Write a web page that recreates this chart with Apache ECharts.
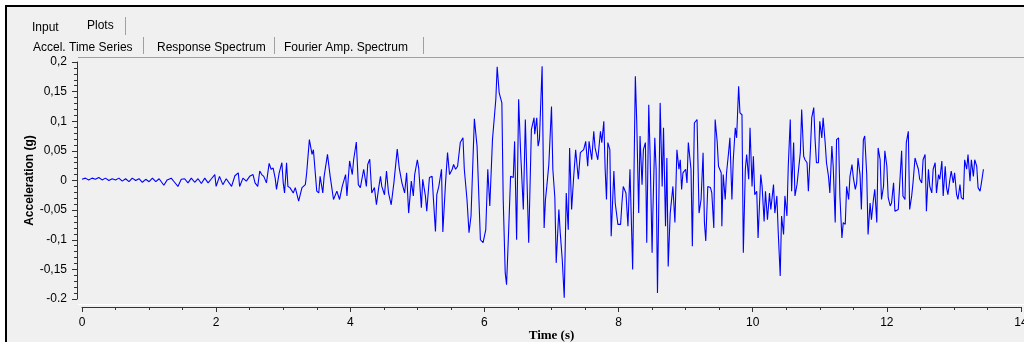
<!DOCTYPE html>
<html>
<head>
<meta charset="utf-8">
<script src="https://cdn.jsdelivr.net/npm/echarts@6/dist/echarts.min.js"></script>
<style>
html,body{margin:0;padding:0;background:#ffffff;}
#chart{width:1024px;height:342px;}
</style>
</head>
<body>
<div id="chart"></div>
<script>
// Tick labels as shown in the reference
const xTickLabels = ['0', '2', '4', '6', '8', '10', '12', '14'];
const yTickLabels = ['-0.2', '-0,15', '-0,1', '-0,05', '0', '0,05', '0,1', '0,15', '0,2'];
const tabsTop = ['Input', 'Plots'];
const tabsSub = ['Accel. Time Series', 'Response Spectrum', 'Fourier Amp. Spectrum'];
const xTitle = 'Time (s)';
const yTitle = 'Acceleration (g)';

// Time (s) of each vertex
const timeS = [
  0.00,0.05,0.10,0.15,0.20,0.25,0.30,0.35,0.40,0.45,0.50,0.55,0.60,0.65,0.70,0.75,0.80,0.85,0.90,0.95,
  1.00,1.05,1.10,1.15,1.22,1.27,1.33,1.38,1.43,1.48,1.53,1.58,1.63,1.68,1.73,1.78,1.83,1.88,1.93,1.98,
  2.00,2.05,2.10,2.15,2.23,2.28,2.33,2.35,2.40,2.45,2.50,2.55,2.58,2.62,2.65,2.68,2.71,2.75,2.79,2.82,
  2.85,2.88,2.90,2.94,2.98,3.00,3.02,3.05,3.07,3.10,3.15,3.18,3.23,3.28,3.33,3.35,3.39,3.43,3.45,3.50,
  3.53,3.55,3.59,3.61,3.66,3.70,3.75,3.80,3.84,3.88,3.93,3.95,3.99,4.03,4.05,4.09,4.12,4.15,4.20,4.24,
  4.26,4.29,4.32,4.36,4.39,4.42,4.45,4.47,4.51,4.54,4.57,4.61,4.65,4.70,4.73,4.77,4.81,4.84,4.87,4.91,
  4.94,4.96,5.00,5.02,5.06,5.08,5.12,5.14,5.18,5.22,5.24,5.27,5.29,5.32,5.36,5.38,5.42,5.45,5.48,5.52,
  5.54,5.57,5.60,5.64,5.68,5.70,5.74,5.77,5.80,5.85,5.89,5.94,5.98,6.02,6.05,6.08,6.12,6.17,6.19,6.22,
  6.26,6.28,6.31,6.33,6.36,6.39,6.43,6.45,6.48,6.51,6.54,6.58,6.61,6.66,6.70,6.74,6.75,6.78,6.80,6.82,
  6.86,6.88,6.89,6.91,6.93,6.96,7.00,7.02,7.05,7.07,7.11,7.13,7.16,7.19,7.22,7.25,7.27,7.30,7.33,7.36,
  7.40,7.43,7.48,7.51,7.54,7.56,7.58,7.60,7.63,7.65,7.69,7.73,7.75,7.78,7.80,7.82,7.84,7.87,7.89,7.93,
  7.95,7.99,8.03,8.05,8.07,8.11,8.14,8.17,8.21,8.25,8.27,8.30,8.32,8.35,8.37,8.40,8.42,8.45,8.47,8.50,
  8.51,8.54,8.56,8.58,8.60,8.62,8.65,8.67,8.70,8.72,8.74,8.77,8.81,8.84,8.87,8.90,8.92,8.94,8.96,9.00,
  9.02,9.04,9.08,9.10,9.13,9.17,9.20,9.23,9.26,9.28,9.30,9.33,9.37,9.39,9.42,9.44,9.47,9.49,9.53,9.54,
  9.56,9.59,9.61,9.64,9.66,9.69,9.71,9.74,9.76,9.79,9.81,9.84,9.86,9.89,9.91,9.94,9.96,9.99,10.01,10.03,
  10.06,10.08,10.12,10.14,10.17,10.19,10.22,10.25,10.27,10.31,10.33,10.36,10.38,10.41,10.43,10.46,10.48,10.51,10.53,10.56,
  10.58,10.61,10.63,10.66,10.68,10.71,10.73,10.76,10.78,10.81,10.83,10.86,10.88,10.91,10.93,10.95,10.98,11.00,11.03,11.05,
  11.08,11.10,11.13,11.15,11.18,11.20,11.23,11.25,11.28,11.30,11.33,11.35,11.38,11.40,11.43,11.45,11.48,11.50,11.53,11.55,
  11.57,11.60,11.62,11.65,11.67,11.70,11.72,11.75,11.77,11.80,11.82,11.85,11.87,11.90,11.92,11.95,11.97,12.00,12.02,12.05,
  12.07,12.10,12.12,12.14,12.17,12.22,12.24,12.27,12.29,12.32,12.34,12.37,12.39,12.42,12.44,12.47,12.49,12.52,12.54,12.57,
  12.59,12.62,12.64,12.67,12.69,12.72,12.74,12.77,12.79,12.82,12.84,12.87,12.89,12.91,12.94,12.96,12.99,13.01,13.04,13.06,
  13.09,13.11,13.14,13.16,13.19,13.21,13.24,13.26,13.29,13.31,13.34,13.36,13.39,13.41,13.44
];

// Acceleration (g) at each vertex
const accelG = [
  0.002,0.004,0.001,0.004,0.002,0.005,0.001,0.004,0.000,0.003,0.001,0.004,-0.001,0.003,-0.002,0.004,0.000,0.003,-0.003,0.002,
  -0.002,0.004,-0.002,0.003,-0.008,0.001,0.004,-0.003,-0.010,0.002,0.003,-0.004,0.004,-0.003,0.003,-0.005,0.004,-0.004,0.003,0.010,
  -0.010,0.007,-0.007,0.003,-0.010,0.008,0.013,-0.010,0.004,-0.001,0.007,0.010,-0.004,-0.010,0.016,0.010,0.007,-0.004,0.029,0.019,
  0.021,0.004,-0.015,0.013,0.030,-0.004,-0.021,0.030,-0.010,-0.012,-0.021,-0.012,-0.035,-0.012,-0.007,0.013,0.069,0.044,0.052,-0.018,
  -0.021,0.007,-0.021,0.007,0.044,0.007,-0.032,-0.018,-0.032,-0.010,0.010,-0.026,0.033,0.010,0.035,0.065,-0.007,-0.012,0.019,-0.010,
  0.027,0.036,-0.021,-0.012,-0.041,-0.015,0.007,-0.010,-0.024,0.016,-0.021,-0.041,-0.004,0.053,0.021,-0.004,-0.021,0.013,-0.055,-0.001,
  -0.026,0.010,0.035,0.021,-0.046,0.002,-0.026,-0.052,0.005,0.007,-0.032,-0.086,-0.024,-0.010,0.019,-0.087,-0.004,0.047,0.010,0.019,
  0.027,0.019,0.024,0.064,0.072,0.019,-0.032,-0.088,-0.060,0.104,0.058,-0.100,-0.105,-0.083,0.019,-0.043,0.069,0.137,0.192,0.148,
  0.131,-0.032,-0.156,-0.176,-0.088,0.007,0.005,0.066,-0.100,0.137,0.047,-0.049,0.103,-0.105,0.086,0.106,0.078,0.106,0.058,0.069,
  0.193,0.007,-0.080,-0.032,-0.010,0.027,0.125,0.019,-0.029,-0.139,-0.049,-0.088,-0.133,-0.198,-0.021,-0.083,0.055,-0.049,0.005,0.052,
  0.002,0.047,0.052,0.066,0.024,0.066,0.066,0.035,0.083,0.055,0.035,0.083,0.064,0.100,0.019,-0.032,0.064,0.052,-0.094,0.016,
  -0.038,-0.074,-0.074,-0.038,-0.010,-0.021,-0.077,0.019,-0.150,0.176,0.103,-0.055,0.075,-0.007,0.052,0.064,-0.105,0.128,0.044,-0.122,
  -0.060,0.072,0.019,-0.190,-0.038,0.131,-0.010,0.089,-0.077,0.038,-0.145,-0.055,-0.010,-0.071,0.052,0.019,0.035,-0.015,0.013,0.019,
  -0.004,0.064,0.019,-0.111,0.097,0.103,-0.055,-0.032,0.047,-0.071,-0.102,-0.010,-0.012,-0.021,-0.080,0.103,0.066,0.024,0.013,-0.077,
  0.010,-0.032,0.013,0.047,0.072,-0.032,0.035,0.089,0.072,0.159,0.114,0.111,-0.122,0.019,0.044,0.002,0.089,-0.010,0.041,-0.024,
  -0.018,-0.097,0.010,-0.010,-0.069,-0.018,-0.066,-0.021,-0.049,-0.007,-0.055,-0.026,-0.086,-0.161,-0.060,-0.091,-0.026,-0.060,0.024,0.103,
  -0.018,0.064,-0.026,-0.007,-0.007,0.047,0.120,0.041,0.035,0.030,-0.018,0.052,0.106,0.123,0.069,0.030,0.030,0.100,0.072,0.106,
  0.064,0.030,0.007,-0.021,0.058,0.024,-0.071,0.069,0.072,-0.026,-0.097,-0.071,-0.074,-0.010,-0.032,0.007,0.027,0.005,-0.015,-0.004,
  0.038,0.010,-0.049,0.069,0.075,0.010,-0.091,-0.038,-0.066,-0.032,-0.015,-0.071,0.055,0.035,-0.032,-0.010,0.050,0.024,-0.029,-0.043,
  -0.038,-0.004,-0.052,-0.055,-0.049,0.050,-0.026,-0.032,0.064,0.083,-0.049,-0.026,-0.004,0.038,0.030,0.019,0.002,-0.004,0.035,0.044,
  -0.052,0.019,-0.010,-0.021,0.019,0.030,-0.021,0.010,0.002,0.033,-0.026,0.024,-0.012,-0.024,0.002,0.016,-0.004,0.013,-0.024,-0.032,
  -0.007,-0.029,-0.032,0.035,0.019,0.044,-0.001,0.035,0.007,0.035,0.024,-0.012,-0.018,-0.004,0.019
];

const seriesData = timeS.map((t, i) => [t, accelG[i]]);

const chart = echarts.init(document.getElementById('chart'), null, {renderer: 'canvas'});
const labelFont = {fontFamily: 'Liberation Sans', fontSize: 12, color: '#000000'};
const grayLine = '#a0a0a0';

function tabText(x, y, text) {
  return {type: 'text', x: x, y: y, silent: true,
    style: {text: text, fill: '#000', fontFamily: 'Liberation Sans', fontSize: 12, verticalAlign: 'middle'}};
}

const graphic = [
  // outer white margin and black frame
  {type: 'rect', shape: {x: 0, y: 0, width: 1024, height: 5}, style: {fill: '#ffffff'}, silent: true},
  {type: 'rect', shape: {x: 0, y: 0, width: 5, height: 342}, style: {fill: '#ffffff'}, silent: true},
  {type: 'rect', shape: {x: 5, y: 5, width: 1019, height: 2}, style: {fill: '#000000'}, silent: true},
  {type: 'rect', shape: {x: 5, y: 5, width: 2, height: 337}, style: {fill: '#000000'}, silent: true},
  // tab separators
  {type: 'line', shape: {x1: 125.5, y1: 17, x2: 125.5, y2: 35}, style: {stroke: grayLine, lineWidth: 1}, silent: true},
  {type: 'line', shape: {x1: 143.5, y1: 37, x2: 143.5, y2: 54}, style: {stroke: grayLine, lineWidth: 1}, silent: true},
  {type: 'line', shape: {x1: 274.5, y1: 37, x2: 274.5, y2: 54}, style: {stroke: grayLine, lineWidth: 1}, silent: true},
  {type: 'line', shape: {x1: 423.5, y1: 37, x2: 423.5, y2: 54}, style: {stroke: grayLine, lineWidth: 1}, silent: true},
  // plot canvas frame
  {type: 'line', shape: {x1: 78, y1: 57.5, x2: 1024, y2: 57.5}, style: {stroke: grayLine, lineWidth: 1}, silent: true},
  {type: 'line', shape: {x1: 78, y1: 304.5, x2: 1024, y2: 304.5}, style: {stroke: '#ffffff', lineWidth: 1}, silent: true},
  // tab texts
  tabText(32, 28, tabsTop[0]),
  tabText(87, 25.5, tabsTop[1]),
  tabText(33, 47.5, tabsSub[0]),
  tabText(157, 47.5, tabsSub[1]),
  tabText(284, 47.5, tabsSub[2])
];

const option = {
  backgroundColor: '#f0f0f0',
  animation: false,
  graphic: graphic,
  grid: {left: 82, right: 3, top: 62, bottom: 43, containLabel: false, outerBoundsMode: 'none'},
  xAxis: {
    type: 'value', min: 0, max: 14, interval: 2, offset: 8,
    name: xTitle, nameLocation: 'middle', nameGap: 22, nameMoveOverlap: false,
    nameTextStyle: {fontFamily: 'Liberation Serif', fontWeight: 'bold', fontSize: 13, color: '#000'},
    axisLine: {show: true, onZero: false, lineStyle: {color: '#333', width: 1}},
    axisTick: {show: true, length: 5, inside: false, lineStyle: {color: '#333'}},
    minorTick: {show: true, splitNumber: 4, length: 3, lineStyle: {color: '#333'}},
    axisLabel: Object.assign({margin: 10, formatter: v => xTickLabels[Math.round(v / 2)] ?? ''}, labelFont),
    splitLine: {show: false}
  },
  yAxis: {
    type: 'value', min: -0.2, max: 0.2, interval: 0.05, offset: 5,
    name: yTitle, nameLocation: 'middle', nameGap: 41, nameRotate: 90, nameMoveOverlap: false,
    nameTextStyle: {fontFamily: 'Liberation Sans', fontWeight: 'bold', fontSize: 12, color: '#000'},
    axisLine: {show: true, onZero: false, lineStyle: {color: '#333', width: 1}},
    axisTick: {show: true, length: 5, lineStyle: {color: '#333'}},
    minorTick: {show: true, splitNumber: 5, length: 3, lineStyle: {color: '#333'}},
    axisLabel: Object.assign({margin: 10, formatter: v => yTickLabels[Math.round((v + 0.2) / 0.05)] ?? ''}, labelFont),
    splitLine: {show: false}
  },
  series: [{
    type: 'line',
    data: seriesData,
    showSymbol: false,
    symbol: 'none',
    lineStyle: {color: '#0000ff', width: 1.1},
    clip: true
  }]
};
chart.setOption(option);
</script>
</body>
</html>
